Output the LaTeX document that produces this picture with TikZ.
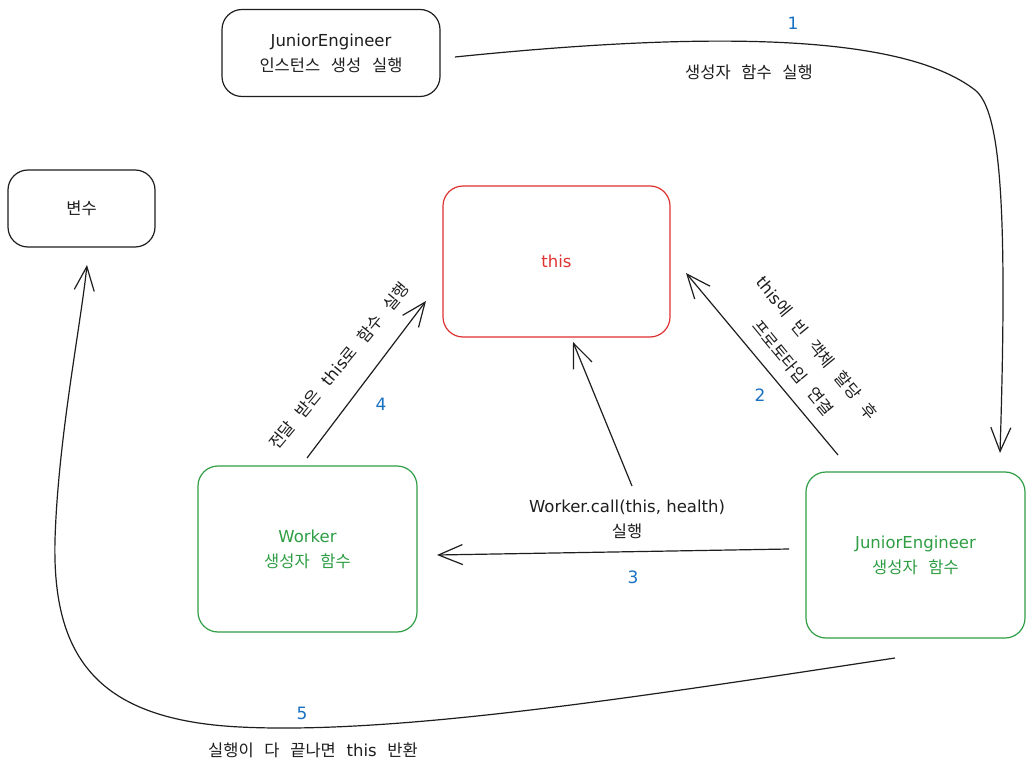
\documentclass[tikz,border=0pt]{standalone}
\usepackage{fontspec}
\setmainfont{DejaVu Sans}
\newfontfamily\kr[WordSpace=2.9]{Noto Sans CJK KR}
\usetikzlibrary{arrows.meta}
\definecolor{inkc}{HTML}{1E1E1E}
\definecolor{redc}{HTML}{E03131}
\definecolor{greenc}{HTML}{2F9E44}
\definecolor{bluec}{HTML}{1971C2}
\tikzset{
  box/.style={draw=inkc, line width=1.2pt, rounded corners=20pt, align=center, text=inkc, font=\fontsize{16.5}{25}\selectfont},
  redbox/.style={box, draw=redc, text=redc},
  greenbox/.style={box, draw=greenc, text=greenc},
  arr/.style={draw=inkc, line width=1.2pt, -{Straight Barb[length=24pt,width=20pt,line width=1.2pt]}},
  num/.style={text=bluec, font=\fontsize{17}{20}\selectfont},
  lbl/.style={text=inkc, align=center, font=\fontsize{16.5}{25}\selectfont},
  rlbl/.style={lbl, font=\fontsize{16.5}{31}\selectfont},
}
\begin{document}
\begin{tikzpicture}[x=1pt,y=-1pt]
\path[use as bounding box, fill=white] (0,0) rectangle (1033,775);

% boxes
\node[box, minimum width=218pt, minimum height=87pt] (inst) at (331,53) {JuniorEngineer\\{\kr 인스턴스 생성 실행}};
\node[box, minimum width=147pt, minimum height=77pt] (var) at (81.5,208.5) {\kr 변수};
\node[redbox, minimum width=227pt, minimum height=151pt] (this) at (556.5,261.5) {this};
\node[greenbox, minimum width=219pt, minimum height=166pt] (worker) at (307.5,549) {Worker\\{\kr 생성자 함수}};
\node[greenbox, minimum width=219pt, minimum height=166pt] (jec) at (915.5,555) {JuniorEngineer\\{\kr 생성자 함수}};

% connector end points
\coordinate (a1s) at (455,57);
\coordinate (a1e) at (1000,453);
\coordinate (a2s) at (838,455);
\coordinate (a2e) at (686,273);
\coordinate (a3s) at (789,549);
\coordinate (a3e) at (437,555);
\coordinate (a6s) at (632,486);
\coordinate (a6e) at (573,342);
\coordinate (a4s) at (307,458);
\coordinate (a4e) at (426,301);
\coordinate (a5s) at (895,658);
\coordinate (a5e) at (87,265);

% 1
\draw[arr] (a1s) .. controls (700,32) and (900,32) .. (975,90)
  .. controls (1000,110) and (1008,200) .. (a1e);
\node[num] (n1) at (793,23) {1};
\node[lbl] (l1) at (749,72) {\kr 생성자 함수 실행};

% 2
\draw[arr] (a2s) -- (a2e);
\node[num] (n2) at (760,395) {2};
\node[rlbl, rotate=-50.5] (l2) at (805,358) {this{\kr 에 빈 객체 할당 후}\\{\kr 프로토타입 연결}};

% 3
\draw[arr] (a3s) -- (a3e);
\node[lbl] (l3) at (627,519) {Worker.call(this, health)\\{\kr 실행}};
\node[num] (n3) at (633,577) {3};

% to this
\draw[arr] (a6s) -- (a6e);

% 4
\draw[arr] (a4s) -- (a4e);
\node[num] (n4) at (381,404) {4};
\node[lbl, rotate=50.4] (l4) at (339,366) {{\kr 전달 받은\ }this{\kr 로 함수 실행}};

% 5
\draw[arr] (a5s) .. controls (650,695) and (400,735) .. (240,727)
  .. controls (100,720) and (52,660) .. (55,540)
  .. controls (58,440) and (80,330) .. (a5e);
\node[num] (n5) at (302,713) {5};
\node[lbl] (l5) at (313,750) {{\kr 실행이 다 끝나면\ }this{\kr\ 반환}};
\end{tikzpicture}
\end{document}
